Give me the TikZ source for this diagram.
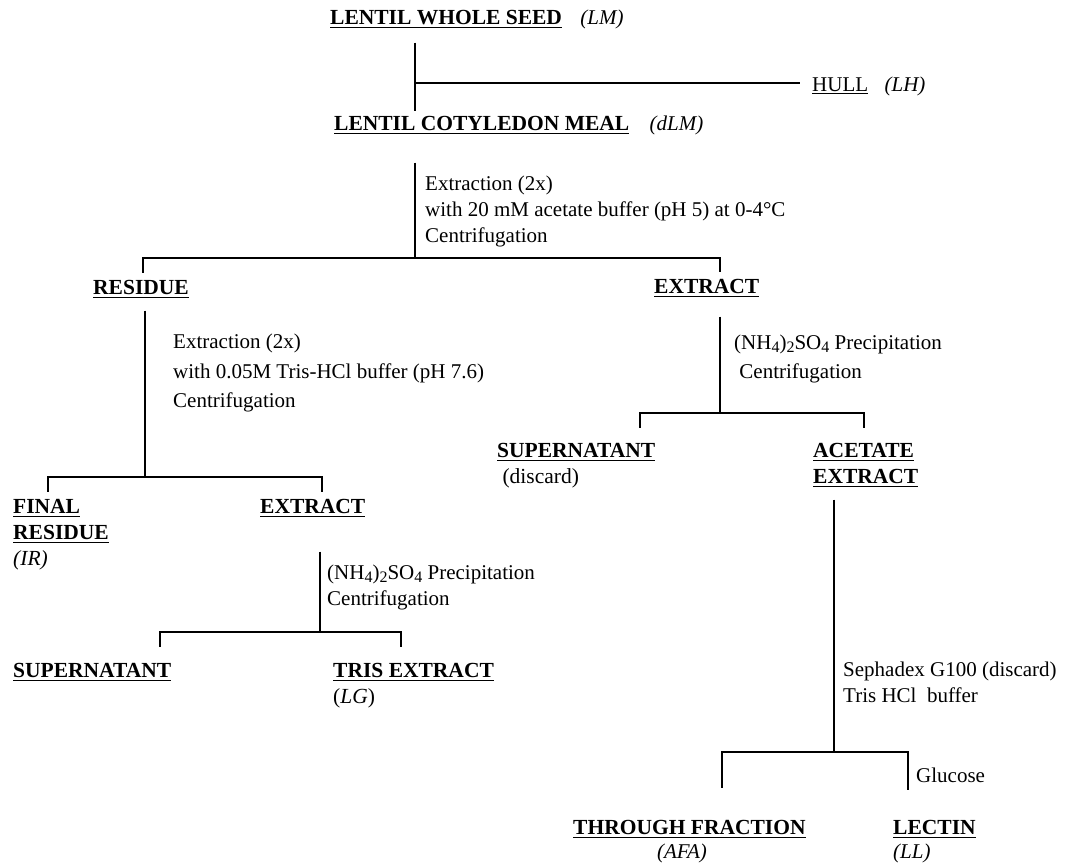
\documentclass[tikz,border=0pt]{standalone}
\usepackage{fontspec}
\setmainfont{Liberation Serif}
\usetikzlibrary{positioning}
\newcommand{\prodline}[1]{\vtop{\hbox{#1}\kern2.6pt\hrule height 1.5pt}}
\newcommand{\thinline}[1]{\vtop{\hbox{#1}\kern2.2pt\hrule height 0.9pt}}
\newcommand{\lowidx}[1]{\raisebox{-0.4ex}{\fontsize{16}{16}\selectfont #1}}
\begin{document}
\begin{tikzpicture}[
    x=1pt, y=-1pt,
    every node/.style={inner sep=0pt, anchor=base west, align=left,
        font=\fontsize{21}{26}\selectfont},
    prod/.style={font=\fontsize{21.5}{26}\selectfont\bfseries},
    tag/.style={font=\fontsize{21}{26}\selectfont\itshape},
    link/.style={line width=1.6pt}
]
    \useasboundingbox (0,0) rectangle (1065,863);

    % products and procedure notes (base = last line)
    \node[prod] (seed) at (330,24) {\prodline{LENTIL WHOLE SEED}};
    \node[tag, base right=18pt of seed] (seedtag) {(LM)};
    \node (hull) at (812,91) {\thinline{HULL}};
    \node[tag, base right=16pt of hull] (hulltag) {(LH)};
    \node[prod] (meal) at (334,130) {\prodline{LENTIL COTYLEDON MEAL}};
    \node[tag, base right=20pt of meal] (mealtag) {(dLM)};
    \node (step1) at (425,242) {Extraction (2x)\\with 20 mM acetate buffer (pH 5) at 0-4°C\\Centrifugation};

    \node[prod] (res) at (93,294) {\prodline{RESIDUE}};
    \node[prod] (ext1) at (654,293) {\prodline{EXTRACT}};
    \node (step2) at (173,407) {Extraction (2x)\\[4pt]with 0.05M Tris-HCl buffer (pH 7.6)\\[3pt]Centrifugation};

    \node[prod] (final) at (13,565) {\prodline{FINAL}\\\bfseries\prodline{RESIDUE}\\\mdseries\itshape(IR)};
    \node[prod] (ext2) at (260,513) {\prodline{EXTRACT}};
    \node (step3) at (327,605) {(NH\lowidx{4})\lowidx{2}SO\lowidx{4} Precipitation\\Centrifugation};
    \node[prod] (sup2) at (13,677) {\prodline{SUPERNATANT}};
    \node[prod] (tris) at (333,703) {\prodline{TRIS EXTRACT}\\\mdseries(\textit{LG})};

    \node (step4) at (734,378) {(NH\lowidx{4})\lowidx{2}SO\lowidx{4} Precipitation\\[3pt]\ Centrifugation};
    \node[prod] (sup1) at (497,483) {\prodline{SUPERNATANT}\\\mdseries\ (discard)};
    \node[prod] (acet) at (813,483) {\prodline{ACETATE}\\\bfseries\prodline{EXTRACT}};
    \node (step5) at (843,702) {Sephadex G100 (discard)\\Tris HCl\ \ buffer};
    \node (gluc) at (916,782) {Glucose};
    \node[prod] (thru) at (573,834) {\prodline{THROUGH FRACTION}};
    \node[tag, anchor=base] (thrutag) at (682,858) {(AFA)};
    \node[prod] (lectin) at (893,834) {\prodline{LECTIN}};
    \node[tag] (lectag) at (893,858) {(LL)};

    % junctions
    \coordinate (t1) at (415,83);
    \coordinate (b1) at (415,258);
    \coordinate (b1l) at (143,258);
    \coordinate (b1r) at (720,258);
    \coordinate (b2) at (145,477);
    \coordinate (b2l) at (48,477);
    \coordinate (b2r) at (322,477);
    \coordinate (b3) at (320,632);
    \coordinate (b3l) at (160,632);
    \coordinate (b3r) at (401,632);
    \coordinate (b4) at (720,413);
    \coordinate (b4l) at (640,413);
    \coordinate (b4r) at (864,413);
    \coordinate (b5) at (834,752);
    \coordinate (b5l) at (722,752);
    \coordinate (b5r) at (908,752);

    % dehulling
    \draw[link] ([yshift=-14pt]seed.south -| t1) -- ([yshift=5pt]meal.north -| t1);
    \draw[link] (t1) -- ([xshift=-12pt]t1 -| hull.west);

    % acetate extraction
    \draw[link] ([yshift=-28pt]meal.south -| b1) -- (b1);
    \draw[link] ([yshift=7pt]b1l |- res.north) -- (b1l) -- (b1r) -- ([yshift=7pt]b1r |- ext1.north);

    % tris extraction
    \draw[link] ([yshift=-12pt]res.south -| b2) -- (b2);
    \draw[link] ([yshift=7pt]b2l |- final.north) -- (b2l) -- (b2r) -- ([yshift=7pt]b2r |- ext2.north);
    \draw[link] ([yshift=-34pt]ext2.south -| b3) -- (b3);
    \draw[link] ([yshift=16pt]b3l |- sup2.north) -- (b3l) -- (b3r) -- ([yshift=16pt]b3r |- tris.north);

    % acetate precipitation
    \draw[link] ([yshift=-19pt]ext1.south -| b4) -- (b4);
    \draw[link] ([yshift=15pt]b4l |- sup1.north) -- (b4l) -- (b4r) -- ([yshift=15pt]b4r |- acet.north);

    % affinity column
    \draw[link] ([yshift=-12pt]acet.south -| b5) -- (b5);
    \draw[link] ([yshift=32pt]b5l |- thru.north) -- (b5l) -- (b5r) -- ([yshift=30pt]b5r |- lectin.north);
\end{tikzpicture}
\end{document}
